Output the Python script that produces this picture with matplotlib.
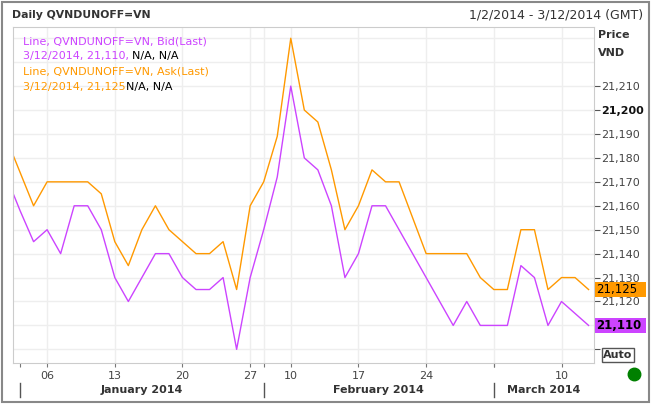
import numpy as np
import matplotlib.pyplot as plt
from matplotlib.lines import Line2D
from matplotlib.patches import Rectangle
import matplotlib.transforms as mtransforms

# trading days (Dec 31 point only feeds the clipped start of the line)
dates = ['12/31', '1/2', '1/3', '1/6', '1/7', '1/8', '1/9', '1/10',
         '1/13', '1/14', '1/15', '1/16', '1/17', '1/20', '1/21', '1/22', '1/23', '1/24',
         '1/27', '2/6', '2/7', '2/10', '2/11', '2/12', '2/13', '2/14',
         '2/17', '2/18', '2/19', '2/20', '2/21', '2/24', '2/25', '2/26', '2/27', '2/28',
         '3/3', '3/4', '3/5', '3/6', '3/7', '3/10', '3/11', '3/12']
ask = [21188, 21174, 21160, 21170, 21170, 21170, 21170, 21165,
       21145, 21135, 21150, 21160, 21150, 21145, 21140, 21140, 21145, 21125,
       21160, 21170, 21189, 21230, 21200, 21195, 21175, 21150,
       21160, 21175, 21170, 21170, 21155, 21140, 21140, 21140, 21140, 21130,
       21125, 21125, 21150, 21150, 21125, 21130, 21130, 21125]
bid = [21172, 21158, 21145, 21150, 21140, 21160, 21160, 21150,
       21130, 21120, 21130, 21140, 21140, 21130, 21125, 21125, 21130, 21100,
       21130, 21150, 21172, 21210, 21180, 21175, 21160, 21130,
       21140, 21160, 21160, 21150, 21140, 21130, 21120, 21110, 21120, 21110,
       21110, 21110, 21135, 21130, 21110, 21120, 21115, 21110]
day_ticks = ['1/6', '1/13', '1/20', '1/27', '2/10', '2/17', '2/24', '3/3', '3/10']
day_labels = ['06', '13', '20', '27', '10', '17', '24', '03', '10']
month_starts = ['1/2', '2/6', '3/3']
month_labels = ['January 2014', 'February 2014', 'March 2014']
grid_y = list(range(21100, 21240, 10))
y_ticks = list(range(21100, 21220, 10))

x = np.arange(len(dates)) - 1  # Jan 2 -> 0
pos = {d: i for d, i in zip(dates, x)}

c_bid = '#CC44FF'
c_ask = '#FF9900'
grey = '#444444'

fig = plt.figure(figsize=(6.51, 4.04), dpi=100)
ax = fig.add_axes([13/651, 41/404, 581/651, 336/404])

ax.plot(x, ask, color=c_ask, lw=1.0)
ax.plot(x, bid, color=c_bid, lw=1.0)

ax.set_xlim(-0.52, 42.4)
ax.set_ylim(21094.3, 21234.7)

# grid
for d in day_ticks + ['2/6']:
    ax.axvline(pos[d], color='#EEEEEE', lw=1, zorder=0)
for v in grid_y:
    ax.axhline(v, color='#EEEEEE', lw=1, zorder=0)

for s in ax.spines.values():
    s.set_color('#CCCCCC')

# y axis on right; last-value boxes cover 21,110 and 21,100 sits under "Auto"
ax.yaxis.tick_right()
ax.set_yticks(y_ticks)
ax.set_yticklabels([f'{v:,}' if 21120 <= v <= 21210 else '' for v in y_ticks])
ax.tick_params(axis='y', length=4, width=0.8, color='#555555', labelsize=8,
               labelcolor=grey, pad=1)
for t in ax.get_yticklabels():
    if t.get_text() == '21,200':
        t.set_fontweight('bold')
        t.set_color('#111111')

# x axis
ax.set_xticks([pos[d] for d in day_ticks + month_starts])
ax.set_xticklabels(day_labels + [''] * len(month_starts))
ax.tick_params(axis='x', length=3, width=0.8, color='#777777', labelsize=8,
               labelcolor=grey, pad=3)

bt = mtransforms.blended_transform_factory(ax.transData, ax.transAxes)
edges = [pos[d] for d in month_starts] + [ax.get_xlim()[1]]
for i, lab in enumerate(month_labels):
    ax.add_line(Line2D([edges[i], edges[i]], [-0.06, -0.1], transform=bt,
                       color='#555555', lw=1, clip_on=False))
    ax.text((edges[i] + edges[i + 1]) / 2, -0.08, lab, transform=bt,
            ha='center', va='center', fontsize=8, fontweight='bold', color='#333333')

# last value boxes
rt = mtransforms.blended_transform_factory(ax.transAxes, ax.transData)
for val, col in [(ask[-1], c_ask), (bid[-1], c_bid)]:
    ax.add_patch(Rectangle((1.002, val - 3.1), 0.088, 6.3, transform=rt,
                           facecolor=col, edgecolor='none', clip_on=False, zorder=5))
    ax.text(1.004, val, f'{val:,}', transform=rt, ha='left', va='center',
            fontsize=8.5, color='black', zorder=6,
            fontweight='bold' if col == c_bid else 'normal')

# legend text inside plot
lines = [
    [('Line, QVNDUNOFF=VN, Bid(Last)', c_bid)],
    [(f'3/12/2014, {bid[-1]:,}, ', c_bid), ('N/A, N/A', 'black')],
    [('Line, QVNDUNOFF=VN, Ask(Last)', c_ask)],
    [(f'3/12/2014, {ask[-1]:,}', c_ask), ('N/A, N/A', 'black')],
]
ys = [41, 56, 72, 87]
for parts, yp in zip(lines, ys):
    prev = None
    for txt, col in parts:
        if prev is None:
            prev = fig.text(23/651, 1 - yp/404, txt, color=col, fontsize=8,
                            ha='left', va='center')
        else:
            prev = ax.annotate(txt, xy=(1, 0.5), xycoords=prev, color=col,
                               fontsize=8, ha='left', va='center')

# header
fig.text(12/651, 1 - 15/404, 'Daily QVNDUNOFF=VN', fontsize=7.8, fontweight='bold',
         color='#333333', ha='left', va='center')
fig.text(643/651, 1 - 15/404, '1/2/2014 - 3/12/2014 (GMT)', fontsize=9,
         color='#333333', ha='right', va='center')
fig.text(598/651, 1 - 35/404, 'Price', fontsize=8, fontweight='bold',
         color='#333333', ha='left', va='center')
fig.text(598/651, 1 - 53/404, 'VND', fontsize=8, fontweight='bold',
         color='#333333', ha='left', va='center')

# Auto button and status dot
fig.text(618/651, 1 - 355/404, 'Auto', fontsize=8, fontweight='bold', color='#333333',
         ha='center', va='center',
         bbox=dict(boxstyle='square,pad=0.15', facecolor='white', edgecolor='#555555', lw=1))
fig.add_artist(Line2D([634/651], [1 - 374/404], marker='o', markersize=9,
                      color='#008000', transform=fig.transFigure))

# outer frame
fig.add_artist(Rectangle((0.003, 0.004), 0.994, 0.992, transform=fig.transFigure,
                         fill=False, edgecolor='#888888', lw=1.5))

fig.savefig('out.png', dpi=100)
